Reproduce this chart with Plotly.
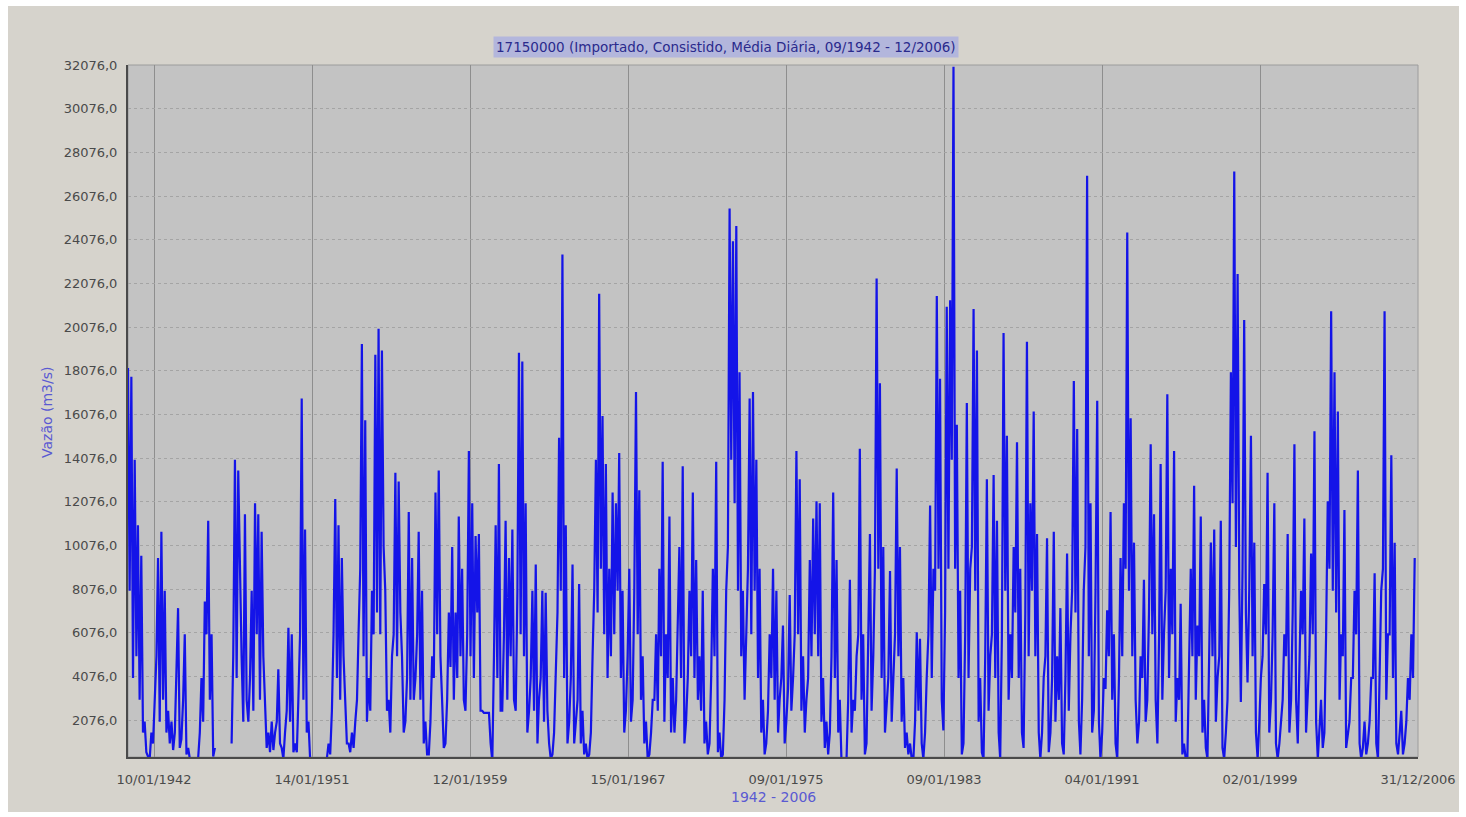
import pandas as pd
import plotly.graph_objects as go

# ---- data (readings, m3/s) ----
start_date = "1942-09-01"
end_date = "2006-12-31"

# flow at the start of every second month (Sep 1942, Nov 1942, Jan 1943, ...)
flow_peaks = [
    18200, 17800,                                   # 1942 (Sep, Nov)
    14000, 11000, 9600, 2000, 400, 1500,            # 1943
    3000, 9500, 10700, 8000, 2500, 2000,            # 1944
    1500, 7200, 1200, 6000, 800, 300,               # 1945
    300, 300, 4000, 7500, 11200, 6000,              # 1946
    800, None, None, None, None, 1000,              # 1947
    14000, 13500, 5000, 11500, 2000, 8000,          # 1948
    12000, 11500, 10700, 3000, 1500, 2000,          # 1949
    1500, 4400, 800, 1500, 6300, 6000,              # 1950
    1000, 3000, 16800, 10800, 2000, 300,            # 1951
    300, 300, 300, 300, 1000, 2500,                 # 1952
    12200, 11000, 9500, 3000, 1000, 1500,           # 1953
    2000, 6000, 19300, 15800, 4000, 8000,           # 1954
    18800, 20000, 19000, 8000, 3000, 5000,          # 1955
    13400, 13000, 5000, 2000, 11600, 9500,          # 1956
    4000, 10700, 8000, 2000, 500, 5000,             # 1957
    12500, 13500, 3000, 1000, 7000, 10000,          # 1958
    7000, 11400, 9000, 2500, 14400, 12000,          # 1959
    10500, 10600, 2500, 2400, 2400, 200,            # 1960
    11000, 13800, 2500, 11200, 9500, 10800,         # 1961
    2500, 18900, 18500, 12000, 2500, 8000,          # 1962
    9200, 3000, 8000, 7900, 1000, 500,              # 1963
    5000, 15000, 23400, 11000, 2000, 9200,          # 1964
    2000, 8300, 2500, 1000, 500, 5000,              # 1965
    14000, 21600, 16000, 13800, 9000, 12500,        # 1966
    12000, 14300, 8000, 2500, 9000, 3000,           # 1967
    17100, 12600, 5000, 2000, 500, 3000,            # 1968
    6000, 9000, 13900, 6000, 11400, 4000,           # 1969
    3000, 10000, 13700, 2000, 8000, 12500,          # 1970
    9400, 5000, 8000, 2000, 1000, 9000,             # 1971
    13900, 1500, 500, 8000, 25500, 24000,           # 1972
    24700, 18000, 8000, 6000, 16800, 17100,         # 1973
    14000, 9000, 3000, 1000, 6000, 9000,            # 1974
    8000, 3000, 6400, 2000, 7800, 4000,             # 1975
    14400, 13100, 5000, 3000, 9400, 11300,          # 1976
    12100, 12000, 4000, 2000, 1500, 12500,          # 1977
    9400, 3000, 300, 200, 8500, 3000,               # 1978
    5000, 14500, 6000, 1000, 10600, 5000,           # 1979
    22300, 17500, 10000, 3000, 8900, 4000,          # 1980
    13600, 10000, 4000, 1500, 1000, 300,            # 1981
    6100, 5800, 300, 4000, 11900, 9000,             # 1982
    21500, 17700, 1600, 21000, 21300, 32000,        # 1983
    15600, 8000, 1000, 16600, 9000, 20900,          # 1984
    19000, 4000, 300, 13100, 5000, 13300,           # 1985
    11200, 300, 19800, 15100, 6000, 10000,          # 1986
    14800, 9000, 800, 19400, 12000, 16200,          # 1987
    10600, 300, 4000, 10400, 1500, 10700,           # 1988
    5000, 7200, 500, 9700, 6000, 17600,             # 1989
    15400, 500, 8000, 27000, 12000, 2500,           # 1990
    16700, 300, 4000, 7100, 11600, 6000,            # 1991
    300, 9500, 12000, 24400, 15900, 10200,          # 1992
    1000, 5000, 8500, 3000, 14700, 11500,           # 1993
    1000, 13800, 6000, 17000, 9000, 14400,          # 1994
    4000, 7400, 1000, 300, 9000, 12800,             # 1995
    6400, 11400, 3000, 300, 10200, 10800,           # 1996
    4000, 11200, 300, 3000, 18000, 27200,           # 1997
    22500, 2900, 20400, 3800, 15100, 10200,         # 1998
    300, 4000, 8300, 13400, 3000, 12000,            # 1999
    300, 2000, 6000, 10600, 3000, 14700,            # 2000
    1000, 8000, 11300, 3000, 9700, 15300,           # 2001
    300, 3000, 1500, 12100, 20800, 18000,           # 2002
    16200, 6000, 11700, 1500, 4000, 8000,           # 2003
    13500, 300, 2000, 1000, 4000, 8800,             # 2004
    300, 8000, 20800, 6000, 14200, 10200,           # 2005
    500, 2500, 1000, 4000, 6000, 9500,              # 2006
]

# flow in the month that follows each of the readings above (Oct 1942, Dec 1942, ...)
flow_between = [
    8000, 4000,                                     # 1942
    5000, 3000, 1500, 600, 300, 1000,               # 1943
    5000, 2000, 3000, 1500, 1000, 700,              # 1944
    4000, 800, 3000, 500, 300, 200,                 # 1945
    200, 1500, 2000, 6000, 3000, 400,               # 1946
    None, None, None, None, None, 5000,             # 1947
    4000, 8000, 2000, 3000, 4000, 2500,             # 1948
    6000, 3000, 5000, 800, 600, 700,                # 1949
    2000, 1000, 300, 2500, 2000, 600,               # 1950
    600, 6000, 3000, 1500, 300, 200,                # 1951
    300, 300, 300, 300, 500, 6000,                  # 1952
    4000, 3000, 5000, 1000, 600, 800,               # 1953
    3000, 9000, 5000, 2000, 2500, 6000,             # 1954
    7000, 6000, 10000, 2500, 1500, 6000,            # 1955
    5000, 7000, 1500, 4000, 3000, 3000,             # 1956
    6000, 3000, 1000, 500, 2000, 4000,              # 1957
    6000, 5000, 800, 3000, 4500, 3000,              # 1958
    4000, 5000, 3000, 6000, 5000, 4000,             # 1959
    7000, 2500, 2400, 2400, 1000, 5000,             # 1960
    4000, 2500, 6000, 3000, 5000, 3000,             # 1961
    8000, 6000, 5000, 1500, 4000, 2500,             # 1962
    1000, 4000, 2000, 2500, 300, 1500,              # 1963
    7000, 8000, 4000, 1000, 4000, 1000,             # 1964
    3000, 1000, 500, 300, 1500, 8000,               # 1965
    7000, 9000, 6000, 4000, 5000, 6000,             # 1966
    8000, 4000, 1500, 5000, 2000, 8000,             # 1967
    6000, 3000, 1000, 300, 1500, 3000,              # 1968
    2500, 5000, 2000, 4000, 1500, 1500,             # 1969
    6000, 4000, 1000, 4000, 5000, 4000,             # 1970
    3000, 2500, 1000, 500, 4000, 5000,              # 1971
    600, 300, 3000, 10000, 14000, 12000,            # 1972
    8000, 5000, 3000, 9000, 6000, 8000,             # 1973
    4000, 1500, 500, 2500, 4000, 3000,              # 1974
    1500, 4000, 1000, 3500, 2500, 6000,             # 1975
    6000, 2500, 1500, 4000, 5000, 6000,             # 1976
    5000, 2000, 800, 500, 5000, 4000,               # 1977
    1500, 200, 200, 3000, 1500, 2500,               # 1978
    6000, 3000, 500, 5000, 2500, 9000,              # 1979
    9000, 4000, 1500, 4000, 2000, 6000,             # 1980
    5000, 2000, 800, 500, 300, 2000,                # 1981
    2500, 1000, 1500, 6000, 4000, 8000,             # 1982
    9000, 3000, 7000, 9000, 14000, 9000,            # 1983
    4000, 500, 6000, 4000, 10000, 8000,             # 1984
    2000, 600, 5000, 2500, 6000, 4000,              # 1985
    1500, 6000, 8000, 3000, 4000, 7000,             # 1986
    4000, 1500, 7000, 5000, 8000, 5000,             # 1987
    1500, 1500, 5000, 600, 4000, 2000,              # 1988
    3000, 1000, 4000, 2500, 8000, 7000,             # 1989
    2000, 3000, 10000, 5000, 1500, 8000,            # 1990
    2000, 1500, 3500, 5000, 3000, 1000,             # 1991
    4000, 5000, 9000, 8000, 5000, 3000,             # 1992
    2000, 4000, 2000, 7000, 6000, 3000,             # 1993
    6000, 3000, 8000, 4000, 6000, 2000,             # 1994
    3000, 500, 300, 4000, 5000, 3000,               # 1995
    5000, 1500, 800, 5000, 5000, 2000,              # 1996
    5000, 800, 1500, 8000, 12000, 10000,            # 1997
    8000, 9000, 7000, 8000, 5000, 1500,             # 1998
    2000, 5000, 6000, 1500, 6000, 1000,             # 1999
    1000, 3000, 5000, 1500, 7000, 3000,             # 2000
    4000, 6000, 1500, 5000, 6000, 2000,             # 2001
    1500, 800, 6000, 9000, 8000, 7000,              # 2002
    3000, 5000, 800, 2000, 4000, 6000,              # 2003
    1000, 800, 500, 2000, 4000, 1000,               # 2004
    4000, 9000, 3000, 6000, 4000, 1000,             # 2005
    1500, 500, 2000, 3000, 4000, None,              # 2006
]

y_tick_values = [2076, 4076, 6076, 8076, 10076, 12076, 14076, 16076,
                 18076, 20076, 22076, 24076, 26076, 28076, 30076, 32076]
y_tick_labels = [f"{v},0" for v in y_tick_values]

x_tick_labels = ["10/01/1942", "14/01/1951", "12/01/1959", "15/01/1967",
                 "09/01/1975", "09/01/1983", "04/01/1991", "02/01/1999",
                 "31/12/2006"]

title_text = "17150000 (Importado, Consistido, Média Diária, 09/1942 - 12/2006)"
y_title = "Vazão (m3/s)"
x_title = "1942 - 2006"

# ---- build ----
flow_monthly = []
for a, b in zip(flow_peaks, flow_between):
    flow_monthly.extend([a, b])
dates = pd.date_range(start_date, periods=len(flow_monthly), freq="MS")

t0 = pd.Timestamp(start_date)
t1 = pd.Timestamp(end_date)
step = (t1 - t0) * (158 / 1290)
tick_vals = [t1 - step * (len(x_tick_labels) - 1 - k) for k in range(len(x_tick_labels))]

FONT = "DejaVu Sans"

fig = go.Figure()
fig.add_trace(go.Scatter(
    x=dates, y=flow_monthly, mode="lines",
    line=dict(color="#1414e8", width=2.2),
    connectgaps=False, showlegend=False,
))

W, H = 1466, 817
L, R, T, B = 128, 48, 65, 60
PW, PH = W - L - R, H - T - B


def px_x(px):
    return (px - L) / PW


def px_y(py):
    return (H - B - py) / PH


fig.update_layout(
    width=W, height=H,
    margin=dict(l=L, r=R, t=T, b=B, pad=0),
    paper_bgcolor="white",
    plot_bgcolor="rgba(0,0,0,0)",
    font=dict(family=FONT, size=13, color="#4a4a4a"),
    shapes=[
        dict(type="rect", xref="paper", yref="paper", layer="below",
             x0=px_x(8), x1=px_x(1459), y0=px_y(812), y1=px_y(6),
             fillcolor="#d6d3cc", line=dict(width=0)),
        dict(type="rect", xref="paper", yref="paper", layer="below",
             x0=0, x1=1, y0=0, y1=1,
             fillcolor="#c3c3c3", line=dict(color="#9c9c9c", width=1)),
    ],
    annotations=[
        dict(text=title_text, xref="paper", yref="paper",
             x=px_x(726), y=px_y(47), xanchor="center", yanchor="middle",
             showarrow=False, bgcolor="#b3b6dc",
             font=dict(family=FONT, size=13.5, color="#2a2a8c"), borderpad=2),
        dict(text=y_title, xref="paper", yref="paper",
             x=px_x(47), y=px_y(412), xanchor="center", yanchor="middle",
             textangle=-90, showarrow=False,
             font=dict(family=FONT, size=14, color="#5a5ad2")),
        dict(text=x_title, xref="paper", yref="paper",
             x=px_x(773), y=px_y(797), xanchor="center", yanchor="middle",
             showarrow=False,
             font=dict(family=FONT, size=14, color="#5a5ad2")),
    ],
)

fig.update_xaxes(
    type="date", range=[t0, t1],
    tickvals=tick_vals, ticktext=x_tick_labels, ticks="",
    showgrid=True, gridcolor="#8e8e8e", gridwidth=1,
    showline=True, linecolor="#4a4a4a", linewidth=2,
    zeroline=False, ticklabelstandoff=9,
)
fig.update_yaxes(
    range=[382, 32076],
    tickvals=y_tick_values, ticktext=y_tick_labels, ticks="",
    showgrid=True, gridcolor="#a4a4a4", gridwidth=1, griddash="dot",
    showline=True, linecolor="#4a4a4a", linewidth=2,
    zeroline=False, ticklabelstandoff=6,
)

fig.write_html("out.html")
